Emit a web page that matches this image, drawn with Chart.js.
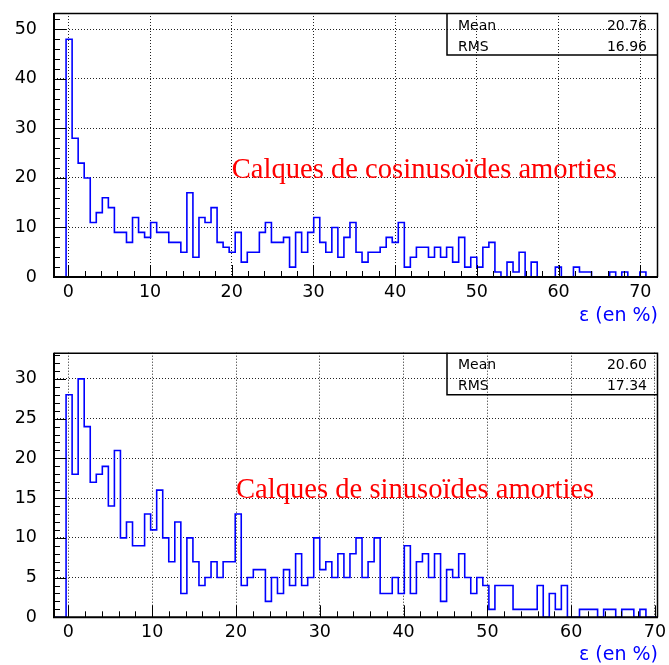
<!DOCTYPE html>
<html>
<head>
<meta charset="utf-8">
<script src="https://cdn.jsdelivr.net/npm/chart.js@4.4.0/dist/chart.umd.min.js"></script>
<style>
  html, body { margin: 0; padding: 0; background: #fff; }
  #wrap { position: relative; width: 669px; height: 665px; }
  canvas { position: absolute; left: 0; }
  #c1 { top: 0; }
  #c2 { top: 330px; }
</style>
</head>
<body>
<div id="wrap">
  <canvas id="c1" width="669" height="330"></canvas>
  <canvas id="c2" width="669" height="335"></canvas>
</div>
<script>
// bin contents, 100 bins each
const COS_COUNTS = [
  0, 0, 48, 28, 23, 20, 11, 13, 16, 14,
  9, 9, 7, 12, 9, 8, 11, 9, 9, 7,
  7, 5, 17, 4, 12, 11, 14, 7, 6, 5,
  9, 3, 5, 5, 9, 11, 7, 7, 8, 2,
  9, 5, 9, 12, 7, 5, 10, 4, 8, 11,
  5, 3, 5, 5, 6, 8, 7, 11, 2, 4,
  6, 6, 4, 6, 4, 6, 3, 8, 2, 4,
  2, 6, 7, 1, 0, 3, 1, 5, 0, 3,
  0, 0, 0, 2, 0, 0, 2, 1, 1, 0,
  0, 0, 1, 0, 1, 0, 0, 1, 0, 0,
];
const SIN_COUNTS = [
  0, 0, 28, 18, 30, 24, 17, 18, 19, 14,
  21, 10, 12, 9, 9, 13, 11, 16, 10, 7,
  12, 3, 10, 7, 4, 5, 7, 5, 7, 7,
  13, 4, 5, 6, 6, 2, 5, 3, 6, 4,
  8, 4, 5, 10, 6, 7, 5, 8, 5, 8,
  10, 5, 7, 10, 3, 3, 5, 3, 9, 3,
  7, 8, 5, 8, 2, 6, 5, 8, 5, 3,
  5, 4, 1, 4, 4, 4, 1, 1, 1, 1,
  4, 0, 3, 1, 4, 0, 0, 1, 1, 1,
  0, 1, 1, 0, 1, 1, 0, 1, 0, 0,
];

// histogram ranges (x) and y maxima
const COS_RANGE = [-1.75, 72.17];
const SIN_RANGE = [-1.72, 70.36];
const COS_YMAX = 53.3;
const SIN_YMAX = 33.3;

const X_TICKS = [0, 10, 20, 30, 40, 50, 60, 70];
const COS_Y_TICKS = [0, 10, 20, 30, 40, 50];
const SIN_Y_TICKS = [0, 5, 10, 15, 20, 25, 30];

const STAT_LABELS = ['Mean', 'RMS'];
const COS_STATS = ['20.76', '16.96'];
const SIN_STATS = ['20.60', '17.34'];

const AXIS_TITLE = 'ε (en %)';
const COS_NOTE = 'Calques de cosinusoïdes amorties';
const SIN_NOTE = 'Calques de sinusoïdes amorties';
const COS_NOTE_AT = [20, 20];
const SIN_NOTE_AT = [20, 15];

const isMajor = (v, step) => Math.abs(v / step - Math.round(v / step)) < 1e-6;

// ROOT style frame: inner ticks, thin top/right border, stats box, red label
const rootFrame = {
  id: 'rootFrame',
  afterDraw(chart, _args, o) {
    const { ctx, chartArea: a, scales: { x, y } } = chart;
    ctx.save();
    ctx.strokeStyle = '#000';
    ctx.lineWidth = 1;
    ctx.beginPath();
    for (let v = Math.ceil(x.min / o.xMinor) * o.xMinor; v <= x.max + 1e-9; v += o.xMinor) {
      const px = Math.round(x.getPixelForValue(v)) + 0.5;
      const len = isMajor(v, o.xMajor) ? 12 : 6;
      ctx.moveTo(px, a.bottom);
      ctx.lineTo(px, a.bottom - len);
    }
    for (let v = 0; v <= y.max + 1e-9; v += o.yMinor) {
      const py = Math.round(y.getPixelForValue(v)) + 0.5;
      const len = isMajor(v, o.yMajor) ? 12 : 6;
      ctx.moveTo(a.left, py);
      ctx.lineTo(a.left + len, py);
    }
    ctx.stroke();

    ctx.lineWidth = 1.5;
    ctx.beginPath();
    ctx.moveTo(a.left, a.top + 0.5);
    ctx.lineTo(a.right - 0.5, a.top + 0.5);
    ctx.lineTo(a.right - 0.5, a.bottom);
    ctx.stroke();

    ctx.lineWidth = 2;
    ctx.beginPath();
    ctx.moveTo(a.left, a.top);
    ctx.lineTo(a.left, a.bottom);
    ctx.lineTo(a.right, a.bottom);
    ctx.stroke();

    // stats box (transparent, only its border)
    const bx = a.right - 211;
    const by = a.top + 42;
    ctx.lineWidth = 1.5;
    ctx.beginPath();
    ctx.moveTo(bx, a.top);
    ctx.lineTo(bx, by);
    ctx.lineTo(a.right, by);
    ctx.stroke();
    ctx.font = '14px "DejaVu Sans"';
    ctx.fillStyle = '#000';
    ctx.textBaseline = 'alphabetic';
    o.stats.forEach((val, i) => {
      const base = a.top + 16.5 + i * 21;
      ctx.textAlign = 'left';
      ctx.fillText(STAT_LABELS[i], bx + 11, base);
      ctx.textAlign = 'right';
      ctx.fillText(val, a.right - 11, base);
    });

    ctx.font = '28.6px "Liberation Serif"';
    ctx.fillStyle = '#ff0000';
    ctx.textAlign = 'left';
    ctx.fillText(o.note, x.getPixelForValue(o.noteAt[0]), y.getPixelForValue(o.noteAt[1]));
    ctx.restore();
  },
};

function createHistogram(canvas, {
  counts, range, yMax, yTicks, yMinor, stats, note, noteAt,
  padTop, xAxisHeight, titlePad,
}) {
  const n = counts.length;
  const width = (range[1] - range[0]) / n;
  // left edge of each bin, plus the closing edge
  const points = Array.from({ length: n + 1 }, (_, k) => ({
    x: range[0] + k * width,
    y: counts[Math.min(k, n - 1)],
  }));

  const tickFont = { family: 'DejaVu Sans', size: 17.5 };

  return new Chart(canvas.getContext('2d'), {
    type: 'line',
    data: {
      datasets: [{
        data: points,
        stepped: 'before',
        borderColor: '#0000ff',
        borderWidth: 1.6,
        pointRadius: 0,
        fill: false,
      }],
    },
    options: {
      responsive: false,
      animation: false,
      devicePixelRatio: 1,
      layout: { padding: { top: padTop, right: 11, left: 0, bottom: 0 } },
      plugins: {
        legend: { display: false },
        tooltip: { enabled: false },
        rootFrame: {
          xMinor: 2, xMajor: 10,
          yMinor, yMajor: yTicks[1] - yTicks[0],
          stats, note, noteAt,
        },
      },
      scales: {
        x: {
          type: 'linear',
          min: range[0],
          max: range[1],
          afterBuildTicks: s => { s.ticks = X_TICKS.map(v => ({ value: v })); },
          afterFit: s => {
            s.height = xAxisHeight;
            s.paddingLeft = 0; s.paddingRight = 0;
          },
          ticks: {
            color: '#000', font: tickFont, padding: 5, maxRotation: 0,
            callback: v => String(v),
          },
          grid: { color: '#222', lineWidth: 1, drawTicks: false },
          border: { display: false, dash: [1, 2] },
          title: {
            display: true, text: AXIS_TITLE, align: 'end', color: '#0000ff',
            font: { family: 'DejaVu Sans', size: 19, lineHeight: 1 },
            padding: { top: 0, bottom: titlePad },
          },
        },
        y: {
          type: 'linear',
          min: 0,
          max: yMax,
          afterBuildTicks: s => { s.ticks = yTicks.map(v => ({ value: v })); },
          afterFit: s => {
            s.width = 54;
            s.paddingTop = 0; s.paddingBottom = 0;
          },
          ticks: {
            color: '#000', font: tickFont, padding: 17,
            callback: v => String(v),
          },
          grid: { color: '#222', lineWidth: 1, drawTicks: false },
          border: { display: false, dash: [1, 2] },
        },
      },
    },
    plugins: [rootFrame],
  });
}

createHistogram(document.getElementById('c1'), {
  counts: COS_COUNTS, range: COS_RANGE, yMax: COS_YMAX,
  yTicks: COS_Y_TICKS, yMinor: 2,
  stats: COS_STATS, note: COS_NOTE, noteAt: COS_NOTE_AT,
  padTop: 13, xAxisHeight: 53, titlePad: 4,
});

createHistogram(document.getElementById('c2'), {
  counts: SIN_COUNTS, range: SIN_RANGE, yMax: SIN_YMAX,
  yTicks: SIN_Y_TICKS, yMinor: 1,
  stats: SIN_STATS, note: SIN_NOTE, noteAt: SIN_NOTE_AT,
  padTop: 22.7, xAxisHeight: 47.7, titlePad: 0,
});
</script>
</body>
</html>
